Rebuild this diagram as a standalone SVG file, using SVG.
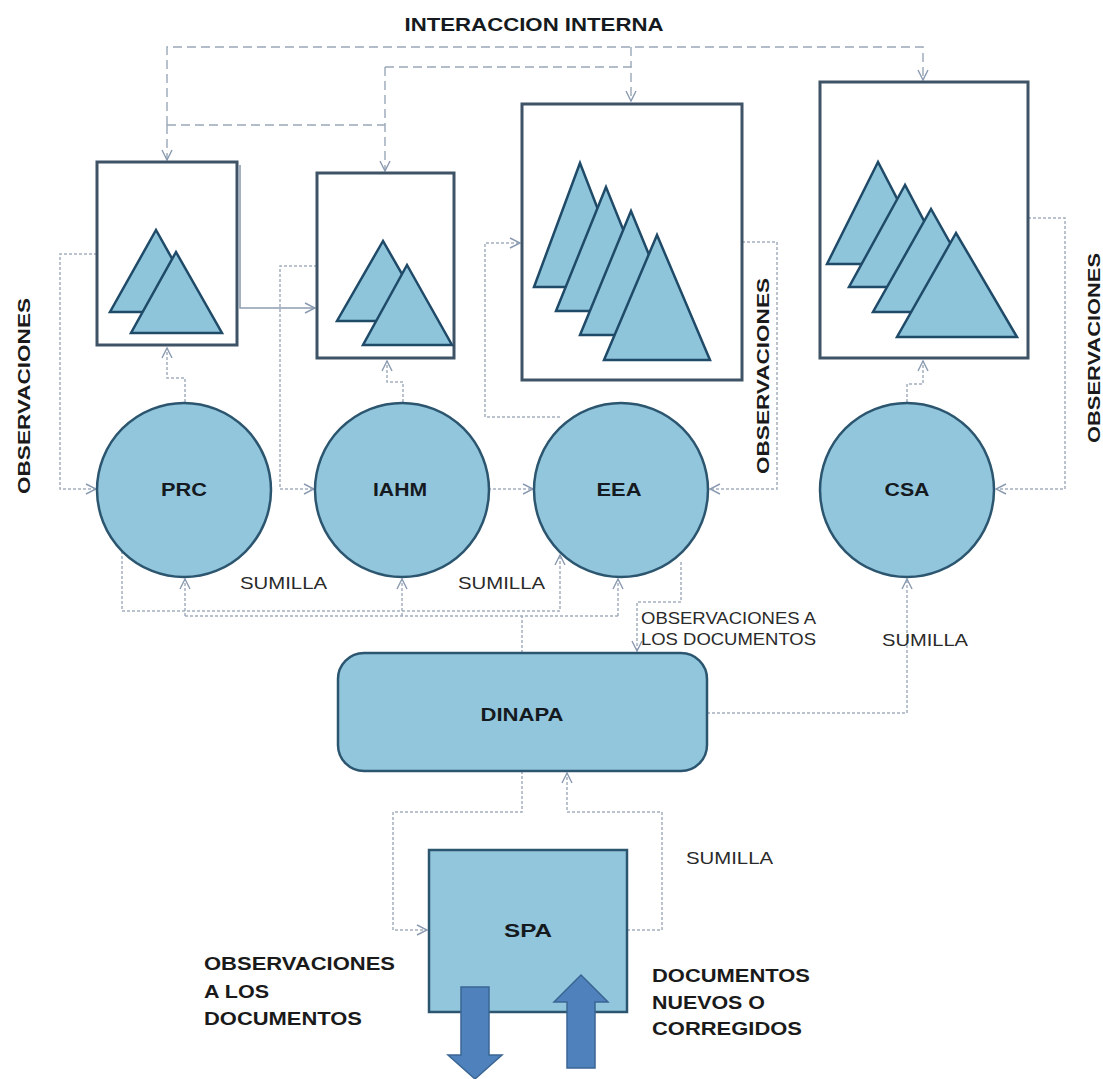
<svg xmlns="http://www.w3.org/2000/svg" width="1103" height="1079" viewBox="0 0 1103 1079">
<style>
.box{fill:#ffffff;stroke:#3f5366;stroke-width:3}
.tri{fill:#8ec5db;stroke:#1f4a68;stroke-width:2.5;stroke-linejoin:miter}
.node{fill:#92c6dd;stroke:#2c566f;stroke-width:2.5}
.lbl{font-family:"Liberation Sans",Arial,sans-serif;font-weight:bold;fill:#151a20;text-anchor:middle}
.obs{font-family:"Liberation Sans",Arial,sans-serif;font-weight:bold;fill:#1a1a1a;font-size:17px;text-anchor:middle}
.note{font-family:"Liberation Sans",Arial,sans-serif;fill:#2a2a2a;font-size:17px}
.bold{font-family:"Liberation Sans",Arial,sans-serif;font-weight:bold;fill:#1a1a1a;font-size:19px}
.dash{fill:none;stroke:#9aa8b8;stroke-width:1.4;stroke-dasharray:9 5}
.dot{fill:none;stroke:#a3afbd;stroke-width:1.5;stroke-dasharray:3 2}
.solid{fill:none;stroke:#8e9db0;stroke-width:1.6}
.big{fill:#4f81bd;stroke:#3a6593;stroke-width:1.5}
</style>
<defs>
<marker id="arr" viewBox="0 0 12 12" refX="11" refY="6" markerWidth="12" markerHeight="12" orient="auto" markerUnits="userSpaceOnUse">
<path d="M1,1 L11,6 L1,11" fill="none" stroke="#8a9ab0" stroke-width="1.4"/>
</marker>
</defs>
<rect width="1103" height="1079" fill="#ffffff"/>

<text class="lbl" x="534" y="31" font-size="18" textLength="259" lengthAdjust="spacingAndGlyphs">INTERACCION INTERNA</text>

<g id="connectors">
<!-- interaccion interna -->
<path class="dash" d="M167,125 V47 H923 V80" marker-end="url(#arr)"/>
<path class="dash" d="M167,125 V160" marker-end="url(#arr)"/>
<path class="dash" d="M167,125 H385"/>
<path class="dash" d="M385,67 H631 V101" marker-end="url(#arr)"/>
<path class="dash" d="M385,67 V171" marker-end="url(#arr)"/>
<path class="dash" d="M631,47 V67"/>
<!-- PRC box to IAHM box -->
<path class="solid" d="M240,165 V308 H315" marker-end="url(#arr)"/>
<!-- observaciones loops -->
<path class="dot" d="M97,254 H60 V489 H96" marker-end="url(#arr)"/>
<path class="dot" d="M317,266 H280 V489 H314" marker-end="url(#arr)"/>
<path class="dot" d="M488,489 H533" marker-end="url(#arr)"/>
<path class="dot" d="M560,417 H485 V243 H520" marker-end="url(#arr)"/>
<path class="dot" d="M742,242 H777 V489 H710" marker-end="url(#arr)"/>
<path class="dot" d="M1028,218 H1065 V489 H996" marker-end="url(#arr)"/>
<!-- circles up to boxes -->
<path class="dot" d="M185,402 V378 H167 V348" marker-end="url(#arr)"/>
<path class="dot" d="M403,402 V382 H387 V361" marker-end="url(#arr)"/>
<path class="dot" d="M907,402 V384 H923 V361" marker-end="url(#arr)"/>
<!-- sumilla lines -->
<path class="dot" d="M122,551 V611 H560 V555" marker-end="url(#arr)"/>
<path class="dot" d="M522,653 V616"/>
<path class="dot" d="M185,616 H618"/>
<path class="dot" d="M185,616 V579" marker-end="url(#arr)"/>
<path class="dot" d="M402,616 V579" marker-end="url(#arr)"/>
<path class="dot" d="M618,616 V579" marker-end="url(#arr)"/>
<!-- EEA to DINAPA -->
<path class="dot" d="M681,562 V602 H637 V651" marker-end="url(#arr)"/>
<!-- DINAPA to CSA -->
<path class="dot" d="M707,713 H907 V579" marker-end="url(#arr)"/>
<!-- DINAPA / SPA -->
<path class="dot" d="M522,771 V812 H393 V930 H427" marker-end="url(#arr)"/>
<path class="dot" d="M627,930 H662 V812 H567 V773" marker-end="url(#arr)"/>
</g>

<g id="box-prc">
<rect class="box" x="97" y="162" width="140" height="183"/>
<polygon class="tri" points="156,230 110,312 202,312"/>
<polygon class="tri" points="176,252 131,333 222,333"/>
</g>
<g id="box-iahm">
<rect class="box" x="317" y="173" width="137" height="185"/>
<polygon class="tri" points="383,241 337,321 429,321"/>
<polygon class="tri" points="407,265 363,345 452,345"/>
</g>
<g id="box-eea">
<rect class="box" x="522" y="104" width="220" height="276"/>
<polygon class="tri" points="580,163 534,287 628,287"/>
<polygon class="tri" points="606,187 556,311 656,311"/>
<polygon class="tri" points="631,211 580,335 682,335"/>
<polygon class="tri" points="657,235 604,360 710,360"/>
</g>
<g id="box-csa">
<rect class="box" x="820" y="82" width="208" height="276"/>
<polygon class="tri" points="878,162 827,264 931,264"/>
<polygon class="tri" points="905,185 849,287 959,287"/>
<polygon class="tri" points="931,209 873,312 989,312"/>
<polygon class="tri" points="956,233 897,337 1017,337"/>
</g>

<g id="node-prc">
<circle class="node" cx="184" cy="490" r="87"/>
<text class="lbl" x="184" y="496" font-size="18" textLength="46" lengthAdjust="spacingAndGlyphs">PRC</text>
</g>
<g id="node-iahm">
<circle class="node" cx="402" cy="490" r="87"/>
<text class="lbl" x="400" y="496" font-size="18" textLength="54" lengthAdjust="spacingAndGlyphs">IAHM</text>
</g>
<g id="node-eea">
<circle class="node" cx="621" cy="490" r="87"/>
<text class="lbl" x="619" y="496" font-size="18" textLength="45" lengthAdjust="spacingAndGlyphs">EEA</text>
</g>
<g id="node-csa">
<circle class="node" cx="907" cy="490" r="87"/>
<text class="lbl" x="907" y="496" font-size="18" textLength="45" lengthAdjust="spacingAndGlyphs">CSA</text>
</g>
<g id="node-dinapa">
<rect class="node" x="338" y="653" width="369" height="118" rx="26"/>
<text class="lbl" x="522" y="721" font-size="18" textLength="83" lengthAdjust="spacingAndGlyphs">DINAPA</text>
</g>
<g id="node-spa">
<rect class="node" x="429" y="850" width="198" height="162"/>
<text class="lbl" x="528" y="937" font-size="18" textLength="48" lengthAdjust="spacingAndGlyphs">SPA</text>
<polygon class="big" points="461,987 489,987 489,1055 502,1055 475,1079 448,1055 461,1055"/>
<polygon class="big" points="581,975 608,1002 595,1002 595,1068 567,1068 567,1002 554,1002"/>
</g>

<g id="labels">
<text class="obs" transform="translate(30,396) rotate(-90)" textLength="196" lengthAdjust="spacingAndGlyphs">OBSERVACIONES</text>
<text class="obs" transform="translate(769,376) rotate(-90)" textLength="196" lengthAdjust="spacingAndGlyphs">OBSERVACIONES</text>
<text class="obs" transform="translate(1100,348) rotate(-90)" textLength="190" lengthAdjust="spacingAndGlyphs">OBSERVACIONES</text>
<text class="note" x="240" y="589" textLength="87" lengthAdjust="spacingAndGlyphs">SUMILLA</text>
<text class="note" x="458" y="589" textLength="87" lengthAdjust="spacingAndGlyphs">SUMILLA</text>
<text class="note" x="882" y="646" textLength="86" lengthAdjust="spacingAndGlyphs">SUMILLA</text>
<text class="note" x="686" y="864" textLength="87" lengthAdjust="spacingAndGlyphs">SUMILLA</text>
<text class="note" x="641" y="624" font-size="16" textLength="175" lengthAdjust="spacingAndGlyphs">OBSERVACIONES A</text>
<text class="note" x="641" y="645" font-size="16" textLength="175" lengthAdjust="spacingAndGlyphs">LOS DOCUMENTOS</text>
<text class="bold" x="204" y="970" textLength="191" lengthAdjust="spacingAndGlyphs">OBSERVACIONES</text>
<text class="bold" x="204" y="998" textLength="65" lengthAdjust="spacingAndGlyphs">A LOS</text>
<text class="bold" x="204" y="1025" textLength="158" lengthAdjust="spacingAndGlyphs">DOCUMENTOS</text>
<text class="bold" x="652" y="982" textLength="158" lengthAdjust="spacingAndGlyphs">DOCUMENTOS</text>
<text class="bold" x="652" y="1009" textLength="113" lengthAdjust="spacingAndGlyphs">NUEVOS O</text>
<text class="bold" x="652" y="1035" textLength="150" lengthAdjust="spacingAndGlyphs">CORREGIDOS</text>
</g>
</svg>
